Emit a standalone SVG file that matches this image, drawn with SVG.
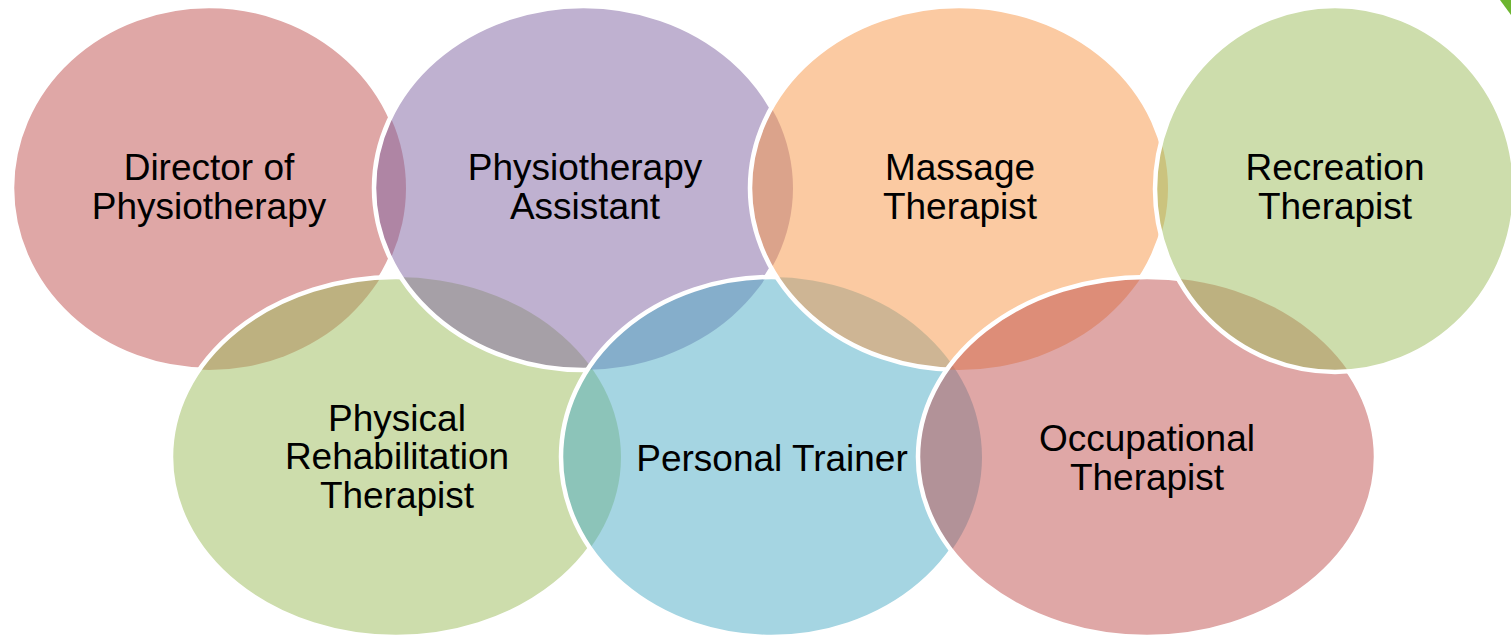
<svg xmlns="http://www.w3.org/2000/svg" width="1511" height="637" viewBox="0 0 1511 637">
<style>
.f{opacity:0.5}
.s{fill:none;stroke:#FFFFFF;stroke-width:4.5}
text{font-family:"Liberation Sans",Arial,sans-serif;font-size:37px;fill:#000000;text-anchor:middle}
</style>
<defs>
<ellipse id="e1" cx="209" cy="188" rx="197" ry="182"/>
<ellipse id="e2" cx="396" cy="457" rx="225" ry="180"/>
<ellipse id="e3" cx="583.5" cy="188" rx="209.5" ry="182"/>
<ellipse id="e4" cx="771.5" cy="457" rx="210.5" ry="180"/>
<ellipse id="e5" cx="959" cy="188" rx="209" ry="182"/>
<ellipse id="e6" cx="1147" cy="457" rx="229" ry="180"/>
<ellipse id="e7" cx="1335" cy="189" rx="180" ry="183"/>
<mask id="m1" maskUnits="userSpaceOnUse" x="0" y="0" width="1511" height="637"><rect width="1511" height="637" fill="#fff"/><use href="#e2" fill="#000"/><use href="#e3" fill="#000"/></mask>
<mask id="m2" maskUnits="userSpaceOnUse" x="0" y="0" width="1511" height="637"><rect width="1511" height="637" fill="#fff"/><use href="#e3" fill="#000"/><use href="#e4" fill="#000"/></mask>
<mask id="m3" maskUnits="userSpaceOnUse" x="0" y="0" width="1511" height="637"><rect width="1511" height="637" fill="#fff"/><use href="#e4" fill="#000"/><use href="#e5" fill="#000"/></mask>
<mask id="m4" maskUnits="userSpaceOnUse" x="0" y="0" width="1511" height="637"><rect width="1511" height="637" fill="#fff"/><use href="#e5" fill="#000"/><use href="#e6" fill="#000"/></mask>
<mask id="m5" maskUnits="userSpaceOnUse" x="0" y="0" width="1511" height="637"><rect width="1511" height="637" fill="#fff"/><use href="#e6" fill="#000"/><use href="#e7" fill="#000"/></mask>
<mask id="m6" maskUnits="userSpaceOnUse" x="0" y="0" width="1511" height="637"><rect width="1511" height="637" fill="#fff"/><use href="#e7" fill="#000"/></mask>
</defs>
<rect width="1511" height="637" fill="#FFFFFF"/>
<polygon points="1500,0 1511,0 1511,15" fill="#6DB530"/>
<g id="fills">
<use href="#e1" class="f" fill="#C0504D"/>
<use href="#e2" class="f" fill="#9BBB59"/>
<use href="#e3" class="f" fill="#8064A2"/>
<use href="#e4" class="f" fill="#4BACC6"/>
<use href="#e5" class="f" fill="#F79646"/>
<use href="#e6" class="f" fill="#C0504D"/>
<use href="#e7" class="f" fill="#9BBB59"/>
</g>
<g id="outlines">
<use href="#e1" class="s" mask="url(#m1)"/>
<use href="#e2" class="s" mask="url(#m2)"/>
<use href="#e3" class="s" mask="url(#m3)"/>
<use href="#e4" class="s" mask="url(#m4)"/>
<use href="#e5" class="s" mask="url(#m5)"/>
<use href="#e6" class="s" mask="url(#m6)"/>
<use href="#e7" class="s"/>
</g>
<g id="director"><text x="209" y="180">Director of</text><text x="209" y="218.5">Physiotherapy</text></g>
<g id="rehab"><text x="397" y="430.5">Physical</text><text x="397" y="469">Rehabilitation</text><text x="397" y="507.5">Therapist</text></g>
<g id="assistant"><text x="585" y="180">Physiotherapy</text><text x="585" y="218.5">Assistant</text></g>
<g id="trainer"><text x="772" y="471">Personal Trainer</text></g>
<g id="massage"><text x="960" y="180">Massage</text><text x="960" y="218.5">Therapist</text></g>
<g id="occupational"><text x="1147" y="451">Occupational</text><text x="1147" y="489.5">Therapist</text></g>
<g id="recreation"><text x="1335" y="180">Recreation</text><text x="1335" y="218.5">Therapist</text></g>
</svg>
